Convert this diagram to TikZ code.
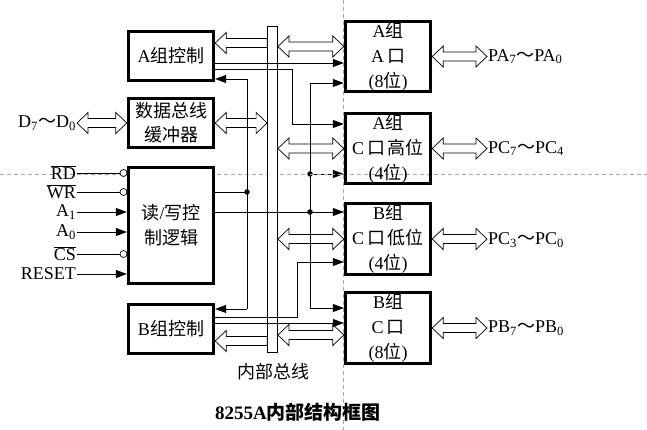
\documentclass[tikz,border=0pt]{standalone}
\usepackage{fontspec}
\setmainfont{Liberation Serif}
\newfontfamily\cjk{Noto Sans CJK SC}
\usetikzlibrary{calc,arrows.meta}
\newcommand\hdbl[2]{\path[hollow] let \p1=#1, \p2=#2 in
 (\x1,\y1) -- (\x1+11pt,\y1+10.5pt) -- (\x1+11pt,\y1+4.5pt) -- (\x2-11pt,\y1+4.5pt) -- (\x2-11pt,\y1+10.5pt) -- (\x2,\y1) -- (\x2-11pt,\y1-10.5pt) -- (\x2-11pt,\y1-4.5pt) -- (\x1+11pt,\y1-4.5pt) -- (\x1+11pt,\y1-10.5pt) -- cycle;}
\newcommand\hsgl[2]{\path[hollow] let \p1=#1, \p2=#2 in
 (\x1,\y1) -- (\x1+11pt,\y1+10.5pt) -- (\x1+11pt,\y1+4.5pt) -- (\x2,\y1+4.5pt) -- (\x2,\y1-4.5pt) -- (\x1+11pt,\y1-4.5pt) -- (\x1+11pt,\y1-10.5pt) -- cycle;}
\begin{document}
\begin{tikzpicture}[x=1pt,y=-1pt,
  box/.style={draw,line width=2.9pt,minimum width=85.5pt,inner sep=0pt,align=center,font=\fontsize{18}{24}\selectfont},
  pbox/.style={box,minimum height=70.5pt,font=\fontsize{18}{25}\selectfont},
  sig/.style={line width=0.8pt,-{Triangle[length=11pt,width=8pt]}},
  wire/.style={line width=0.8pt},
  hollow/.style={draw,fill=white,line width=0.7pt},
  guide/.style={gray!70,line width=0.6pt,dash pattern=on 4pt off 3pt},
  lbl/.style={anchor=east,font=\fontsize{18}{20}\selectfont,inner sep=1pt},
  rlbl/.style={anchor=west,font=\fontsize{18}{20}\selectfont,inner sep=1pt},
  dot/.style={circle,fill,inner sep=0pt,minimum size=5.5pt},
  bubble/.style={circle,draw,fill=white,line width=0.7pt,inner sep=0pt,minimum size=7pt},
]
\useasboundingbox (0,0) rectangle (647,430);
% guide lines
\coordinate (gl) at (0,174); \coordinate (gr) at (647,174);
\coordinate (gt) at (343,0); \coordinate (gb) at (343,430);
\draw[guide] (gl) -- (gr);
\draw[guide] (gt) -- (gb);
% internal bus
\node[draw,fill=white,line width=0.8pt,minimum width=10pt,minimum height=326pt,inner sep=0pt] (bus) at (272.5,189.5) {};
% left boxes
\node[box,minimum height=49.5pt] (actl) at (171,56) {A{\cjk 组控制}};
\node[box,minimum height=49.5pt] (dbuf) at (171,123) {{\cjk 数据总线}\\{\cjk 缓冲器}};
\node[box,fill=white,minimum height=116.5pt,font=\fontsize{18}{25}\selectfont] (rw) at (171,225.5) {{\cjk 读}/{\cjk 写控}\\{\cjk 制逻辑}};
\node[box,minimum height=49.5pt] (bctl) at (171,329) {B{\cjk 组控制}};
% right boxes
\node[pbox] (pa) at (388,56.5) {A{\cjk 组}\\A\,{\cjk 口}\\(8{\cjk 位})};
\node[pbox] (pch) at (388,148.5) {A{\cjk 组}\\C\,{\cjk 口}\,{\cjk 高位}\\(4{\cjk 位})};
\node[pbox] (pcl) at (388,239) {B{\cjk 组}\\C\,{\cjk 口}\,{\cjk 低位}\\(4{\cjk 位})};
\node[pbox] (pb) at (388,328) {B{\cjk 组}\\C\,{\cjk 口}\\(8{\cjk 位})};
% labels
\node[lbl] (d) at (77,123) {D\textsubscript{7}{\cjk ～}D\textsubscript{0}};
\node[lbl] (rd) at (77,173) {$\overline{\mbox{RD}}$};
\node[lbl] (wr) at (77,192) {$\overline{\mbox{WR}}$};
\node[lbl] (a1) at (77,212) {A\textsubscript{1}};
\node[lbl] (a0) at (77,232) {A\textsubscript{0}};
\node[lbl] (cs) at (77,254) {$\overline{\mbox{CS}}$};
\node[lbl] (rst) at (77,274) {RESET};
\node[rlbl] (pal) at (487,56.5) {PA\textsubscript{7}{\cjk ～}PA\textsubscript{0}};
\node[rlbl] (pchl) at (487,148.5) {PC\textsubscript{7}{\cjk ～}PC\textsubscript{4}};
\node[rlbl] (pcll) at (487,240) {PC\textsubscript{3}{\cjk ～}PC\textsubscript{0}};
\node[rlbl] (pbl) at (487,328) {PB\textsubscript{7}{\cjk ～}PB\textsubscript{0}};
\node[font=\fontsize{18}{20}\selectfont] (buslbl) at (273,372) {\cjk 内部总线};
\node[font=\fontsize{19}{20}\selectfont\bfseries] (title) at (298,412) {8255A{\cjk 内部结构框图}};
% level coordinates
\coordinate (y43) at (0,43);
\coordinate (y46) at (0,46.5);
\coordinate (y63) at (0,63);
\coordinate (y323) at (0,323);
\coordinate (y335) at (0,335);
\coordinate (y341) at (0,341);
\coordinate (k1) at (292,69); \coordinate (k2) at (292,124);
\coordinate (j1) at (247,79); \coordinate (j2) at (247,192); \coordinate (j3) at (247,309);
\coordinate (m1) at (310,83); \coordinate (m2) at (310,174); \coordinate (m3) at (310,212); \coordinate (m4) at (310,308);
\coordinate (n1) at (297,262); \coordinate (n2) at (297,317);
% hollow bus arrows
\hsgl{(actl.east |- y43)}{(bus.west |- y43)}
\hdbl{(bus.east |- y46)}{(pa.west |- y46)}
\hdbl{(d.east)}{(dbuf.west)}
\hdbl{(dbuf.east)}{(bus.west |- dbuf.east)}
\hdbl{(bus.east |- pch.west)}{(pch.west)}
\hdbl{(bus.east |- pcl.west)}{(pcl.west)}
\hdbl{(bus.east |- y335)}{(pb.west |- y335)}
\hsgl{(bctl.east |- y341)}{(bus.west |- y341)}
\hdbl{(pa.east)}{(pal.west)}
\hdbl{(pch.east)}{(pchl.west)}
\hdbl{(pcl.east)}{(pcll.west |- pcl.east)}
\hdbl{(pb.east)}{(pbl.west)}
% control wires
\draw[sig] (actl.east |- y63) -- (pa.west |- y63);
\draw[sig] (actl.east |- k1) -- (k1) -- (k2) -- (pch.west |- k2);
\draw[wire] (j1) -- (j3);
\draw[sig] (j1) -- (actl.east |- j1);
\draw[sig] (j3) -- (bctl.east |- j3);
\draw[wire] (rw.east |- j2) -- (j2);
\draw[wire] (m1) -- (m4);
\draw[sig] (m1) -- (pa.west |- m1);
\draw[sig] (m2) -- (pch.west |- m2);
\draw[sig] (rw.east |- m3) -- (pcl.west |- m3);
\draw[sig] (m4) -- (pb.west |- m4);
\draw[sig] (bctl.east |- n2) -- (n2) -- (n1) -- (pcl.west |- n1);
\draw[sig] (bctl.east |- y323) -- (pb.west |- y323);
\node[dot] (dj2) at (j2) {};
\node[dot] (dm2) at (m2) {};
\node[dot] (dm3) at (m3) {};
\draw[guide] (dm2.center) -- (pch.west |- m2);
% input signals
\node[bubble] (brd) at (123.5,173) {};
\node[bubble] (bwr) at (123.5,192) {};
\node[bubble] (bcs) at (123.5,254) {};
\draw[wire] (rd.east) -- (brd.west);
\draw[wire] (wr.east) -- (bwr.west);
\draw[wire] (cs.east) -- (bcs.west);
\draw[sig] (a1.east) -- (rw.west |- a1.east);
\draw[sig] (a0.east) -- (rw.west |- a0.east);
\draw[sig] (rst.east) -- (rw.west |- rst.east);
\end{tikzpicture}
\end{document}
